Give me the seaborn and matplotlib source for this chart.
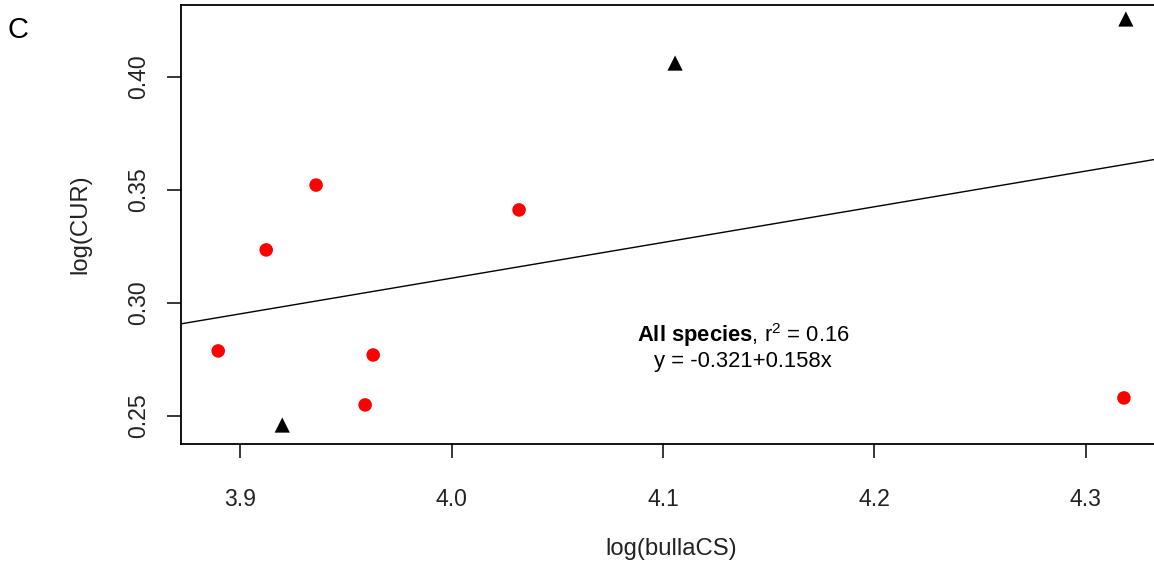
import matplotlib
matplotlib.use("Agg")
import matplotlib.pyplot as plt
import seaborn as sns
import pandas as pd

# ---- data ----
red_x = [3.8896, 3.9123, 3.9359, 3.9591, 3.9629, 4.0319, 4.3180]
red_y = [0.2788, 0.3235, 0.3522, 0.2549, 0.2770, 0.3412, 0.2580]
tri_x = [3.9199, 4.1057, 4.3189]
tri_y = [0.2460, 0.4062, 0.4257]
intercept = -0.321
slope = 0.158
x_ticks = [3.9, 4.0, 4.1, 4.2, 4.3]
x_tick_labels = ["3.9", "4.0", "4.1", "4.2", "4.3"]
y_ticks = [0.25, 0.30, 0.35, 0.40]
y_tick_labels = ["0.25", "0.30", "0.35", "0.40"]

sns.set_style("white")
plt.rcParams['font.family'] = ['Liberation Sans', 'DejaVu Sans']
plt.rcParams['mathtext.fontset'] = 'custom'
plt.rcParams['mathtext.rm'] = 'Liberation Sans'
plt.rcParams['mathtext.bf'] = 'Liberation Sans:bold'
plt.rcParams['mathtext.it'] = 'Liberation Sans:italic'

df = pd.DataFrame({
    "x": red_x + tri_x,
    "y": red_y + tri_y,
    "group": ["a"] * len(red_x) + ["b"] * len(tri_x),
})

W, H = 1154, 567
fig = plt.figure(figsize=(W / 100, H / 100), dpi=100)
left, right, top, bottom = 181, 1162, 5, 444
ax = fig.add_axes([left / W, 1 - bottom / H, (right - left) / W, (bottom - top) / H])

sns.scatterplot(data=df, x="x", y="y", hue="group", style="group", size="group",
                palette={"a": "#ff0000", "b": "#000000"},
                markers={"a": "o", "b": "^"},
                sizes={"a": 95, "b": 120},
                linewidth=0, legend=False, ax=ax)

ax.axline((0, intercept), slope=slope, color="black", lw=1.0)

ax.set_xlim(3.872, 4.336)
ax.set_ylim(0.2376, 0.4319)
ax.set_xticks(x_ticks)
ax.set_xticklabels(x_tick_labels)
ax.set_yticks(y_ticks)
ax.set_yticklabels(y_tick_labels, rotation=90, va="center")

for s in ["left", "bottom", "top"]:
    ax.spines[s].set_visible(True)
    ax.spines[s].set_color("black")
    ax.spines[s].set_linewidth(1.3)
ax.spines["right"].set_visible(False)

ax.tick_params(axis="both", direction="out", length=10, width=1.1, color="black",
               labelsize=16.6, labelcolor="#222222", bottom=True, left=True,
               top=False, right=False)
ax.tick_params(axis="x", pad=22)
ax.tick_params(axis="y", pad=12)

ax.set_xlabel("log(bullaCS)", fontsize=17.2, color="#222222", va="center")
ax.set_ylabel("log(CUR)", fontsize=17.2, color="#222222", va="center")
ax.xaxis.set_label_coords(0.5, (bottom - 549) / (bottom - top))
ax.yaxis.set_label_coords((80 - left) / (right - left), 0.5)

ax.text(4.1378, 0.2858, r"$\mathbf{All\ species}$, r$^{2}$ = 0.16", ha="center", va="center",
        fontsize=15.8, color="black")
ax.text(4.1378, 0.2740, "y = -0.321+0.158x", ha="center", va="center",
        fontsize=15.8, color="black")

fig.text(18 / W, 1 - 30 / H, "C", fontsize=21, ha="center", va="center", color="black")

fig.savefig("out.png", dpi=100)
